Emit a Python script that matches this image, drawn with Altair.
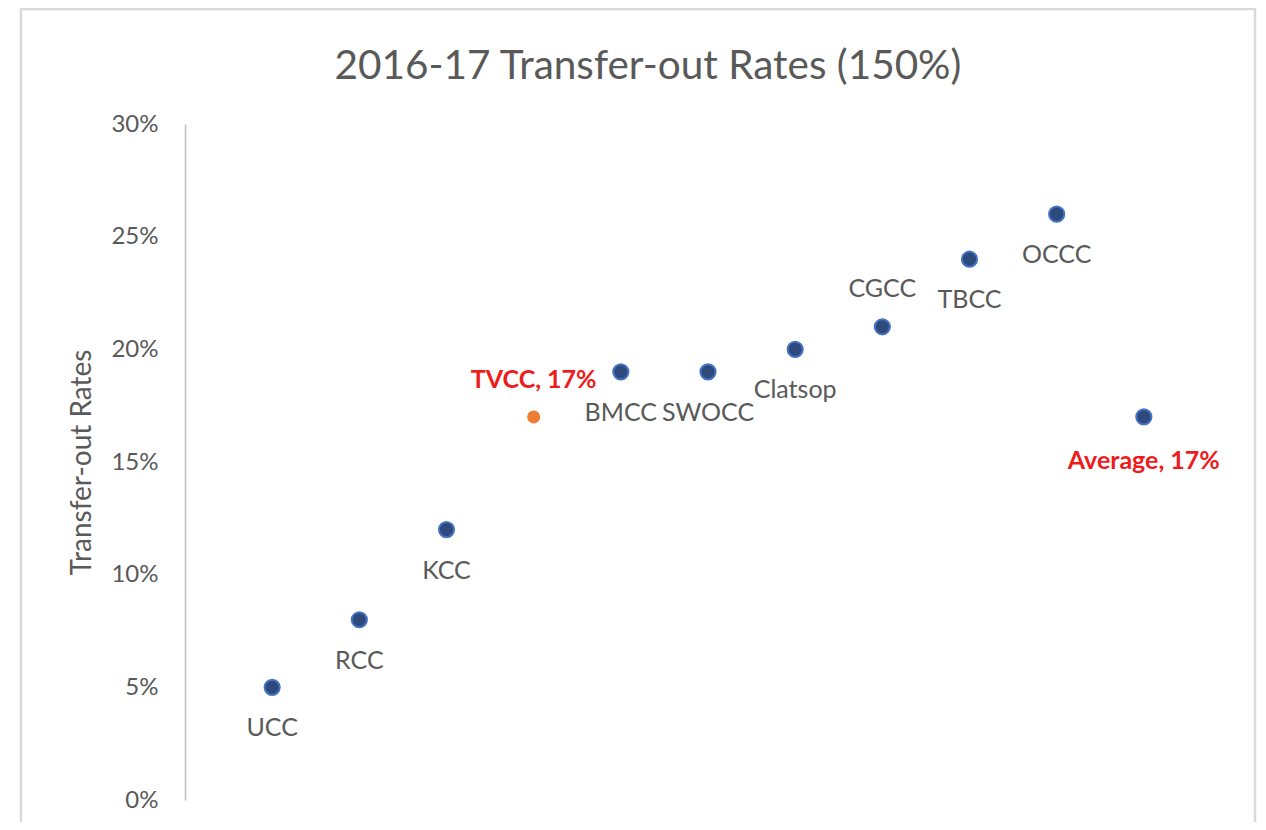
import altair as alt
import pandas as pd

names = ["UCC", "RCC", "KCC", "TVCC", "BMCC", "SWOCC", "Clatsop", "CGCC", "TBCC", "OCCC", "Average"]
rates = [0.05, 0.08, 0.12, 0.17, 0.19, 0.19, 0.20, 0.21, 0.24, 0.26, 0.17]
labels = ["UCC", "RCC", "KCC", "TVCC, 17%", "BMCC", "SWOCC", "Clatsop", "CGCC", "TBCC", "OCCC", "Average, 17%"]
order = list(range(1, len(names) + 1))
y_ticks = [0, 0.05, 0.10, 0.15, 0.20, 0.25, 0.30]

highlight = ["TVCC", "Average"]
above = ["TVCC", "CGCC"]

df = pd.DataFrame({"name": names, "rate": rates, "label": labels, "pos": order})
df["hl"] = df["name"].isin(highlight)
df["orange"] = df["name"] == "TVCC"
df["above"] = df["name"].isin(above)

FONT = "Lato"
GRAY = "#595959"
RED = "#EE1C1C"

xs = alt.X("pos:Q", scale=alt.Scale(domain=[0, 12], nice=False, zero=False), axis=None)
ys = alt.Y(
    "rate:Q",
    scale=alt.Scale(domain=[0, 0.30], nice=False),
    axis=alt.Axis(
        title="Transfer-out Rates",
        format=".0%",
        values=y_ticks,
        grid=False,
        ticks=False,
        domainColor="#BFBFBF",
        domainWidth=1.5,
        labelFont=FONT,
        labelFontSize=24,
        labelColor=GRAY,
        labelPadding=27,
        titleFont=FONT,
        titleFontSize=28,
        titleFontWeight="normal",
        titleColor=GRAY,
        titlePadding=14,
    ),
)

base = alt.Chart(df)

border = alt.Chart(alt.Data(values=[{}])).mark_rect(
    filled=False, stroke="#D9D9D9", strokeWidth=2.5, clip=False
).encode(x=alt.value(-164), x2=alt.value(1070), y=alt.value(-115), y2=alt.value(740))

blue_pts = base.transform_filter("!datum.orange").mark_point(
    filled=True, size=230, fill="#2E4A7D", stroke="#4472C4", strokeWidth=2, opacity=1
).encode(x=xs, y=ys)

orange_pts = base.transform_filter("datum.orange").mark_point(
    filled=True, size=170, color="#ED7D31", opacity=1
).encode(x=xs, y=ys)

def text_layer(filter_expr, dy, bold):
    return base.transform_filter(filter_expr).mark_text(
        font=FONT,
        fontSize=25,
        fontWeight="bold" if bold else "normal",
        color=RED if bold else GRAY,
        dy=dy,
        baseline="middle",
        align="center",
    ).encode(x=xs, y=ys, text="label:N")

txt_below = text_layer("!datum.above && !datum.hl", 41, False)
txt_above = text_layer("datum.above && !datum.hl", -38, False)
txt_below_hl = text_layer("!datum.above && datum.hl", 44, True)
txt_above_hl = text_layer("datum.above && datum.hl", -37, True)

chart = alt.layer(
    border, blue_pts, orange_pts, txt_below, txt_above, txt_below_hl, txt_above_hl
).properties(
    width=1046,
    height=676,
    padding={"left": 177, "top": 116, "right": 27, "bottom": 22},
    autosize=alt.AutoSizeParams(type="none"),
    title=alt.TitleParams(
        "2016-17 Transfer-out Rates (150%)",
        font=FONT,
        fontSize=40.5,
        fontWeight="normal",
        color=GRAY,
        anchor="middle",
        baseline="alphabetic",
        dx=-60,
        offset=-112,
    ),
).configure_view(stroke=None)

chart.save("out.html", embed_options={"renderer": "svg", "actions": False})
